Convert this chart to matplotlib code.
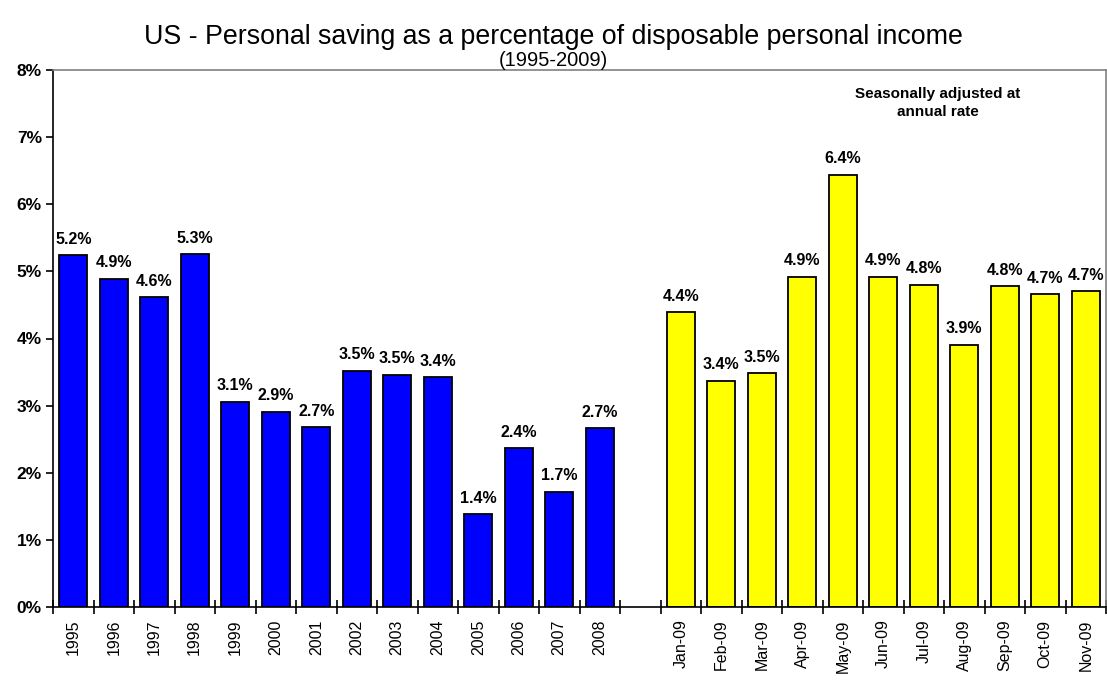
import matplotlib
matplotlib.use("Agg")
from matplotlib import pyplot as plt
from matplotlib.ticker import FuncFormatter, MultipleLocator
import numpy as np

plt.rcParams['font.family'] = ['Liberation Sans', 'DejaVu Sans']

# Annual data (blue) and monthly 2009 data (yellow)
years = ['1995', '1996', '1997', '1998', '1999', '2000', '2001',
         '2002', '2003', '2004', '2005', '2006', '2007', '2008']
annual = [5.24, 4.89, 4.62, 5.26, 3.06, 2.91, 2.68,
          3.52, 3.46, 3.42, 1.38, 2.37, 1.72, 2.66]
months = ['Jan-09', 'Feb-09', 'Mar-09', 'Apr-09', 'May-09', 'Jun-09',
          'Jul-09', 'Aug-09', 'Sep-09', 'Oct-09', 'Nov-09']
monthly = [4.39, 3.37, 3.48, 4.92, 6.44, 4.92, 4.80, 3.91, 4.78, 4.66, 4.71]

BLUE = '#0000ff'
YELLOW = '#ffff00'

fig = plt.figure(figsize=(11.07, 6.82), dpi=100)
ax = fig.add_axes([53 / 1107, 1 - 607 / 682, 1053 / 1107, 537 / 682])

# one empty category between the two groups
x_years = np.arange(len(years))
x_months = np.arange(len(months)) + len(years) + 1
width = 0.69

b1 = ax.bar(x_years, annual, width, color=BLUE, edgecolor='black', linewidth=1.3, zorder=2)
b2 = ax.bar(x_months, monthly, width, color=YELLOW, edgecolor='black', linewidth=1.3, zorder=2)

for bars in (b1, b2):
    for rect in bars:
        h = rect.get_height()
        ax.annotate('%.1f%%' % h, (rect.get_x() + rect.get_width() / 2, h),
                    xytext=(0, 6), textcoords='offset points',
                    ha='center', va='bottom', fontsize=11.5, fontweight='bold')

n = len(years) + 1 + len(months)
ax.set_xlim(-0.5, n - 0.5)
ax.set_ylim(0, 8)

ax.yaxis.set_major_locator(MultipleLocator(1))
ax.yaxis.set_major_formatter(FuncFormatter(lambda v, p: '%d%%' % v))
for t in ax.get_yticklabels():
    t.set_fontweight('bold')
ax.tick_params(axis='y', labelsize=12.5, direction='out', length=5, width=1.2, pad=3)

ax.set_xticks(list(x_years) + list(x_months))
ax.set_xticklabels(years + months, rotation=90, fontsize=11.5)
ax.set_xticks(np.arange(n + 1) - 0.5, minor=True)
ax.tick_params(axis='x', which='major', length=0, pad=9)
ax.tick_params(axis='x', which='minor', direction='inout', length=10, width=1.2)

for side in ('left', 'bottom'):
    ax.spines[side].set_color('black')
    ax.spines[side].set_linewidth(1.2)
for side in ('top', 'right'):
    ax.spines[side].set_color('#808080')
    ax.spines[side].set_linewidth(1.2)

fig.text(0.5, 1 - 37 / 682, 'US - Personal saving as a percentage of disposable personal income',
         ha='center', va='center', fontsize=19.3)
fig.text(0.5, 1 - 60 / 682, '(1995-2009)', ha='center', va='center', fontsize=14.5)

fig.text(938 / 1107, 1 - 103 / 682, 'Seasonally adjusted at\nannual rate',
         ha='center', va='center', fontsize=11, fontweight='bold', linespacing=1.45)

fig.savefig('out.png', dpi=100)
